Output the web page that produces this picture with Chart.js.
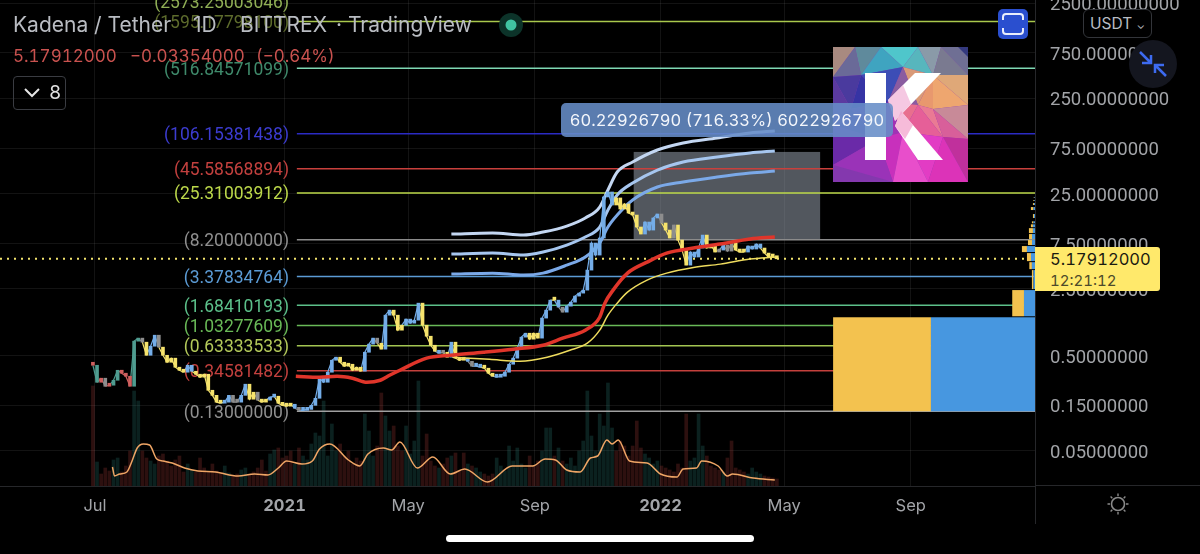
<!DOCTYPE html>
<html>
<head>
<meta charset="utf-8">
<script src="https://cdn.jsdelivr.net/npm/chart.js@4"></script>
<style>
  html, body { margin: 0; padding: 0; background: #000; }
  #wrap { position: relative; width: 1200px; height: 554px; overflow: hidden; background: #000; font-family: Inter, "Noto Sans", sans-serif; font-feature-settings: "tnum"; }
  canvas { position: absolute; left: 0; top: 0; }
  .txt { position: absolute; white-space: nowrap; }
  .head { top: 12px; font-size: 21px; color: #b9bcc2; font-feature-settings: "tnum" 0; }
  .change { top: 46px; font-size: 17px; color: #c9524f; }
  #legendBtn { position: absolute; left: 13px; top: 76px; width: 53px; height: 34px; border: 1px solid #3a3c42; border-radius: 4px; box-sizing: border-box; }
  #usdt { position: absolute; left: 1083px; top: 9px; width: 69px; height: 29px; border: 1px solid #33353a; border-radius: 6px; box-sizing: border-box; background: #000; color: #b9bcc2; font-size: 15.5px; line-height: 27px; padding-left: 6px; }
  #tag { position: absolute; left: 1035px; top: 247px; width: 125px; height: 44px; background: #ffe96b; border-radius: 0 3px 3px 0; }
  #measure { position: absolute; left: 561px; top: 103px; width: 332px; height: 34px; background: rgba(103,141,199,.88); border-radius: 5px; color: #f3f6fb; font-size: 16.5px; line-height: 34px; text-align: center; }
  #homeBar { position: absolute; left: 446px; top: 535px; width: 308px; height: 7px; background: #fff; border-radius: 4px; }
  #logo, .icon { position: absolute; }
  .rule { position: absolute; background: #26272a; }
</style>
</head>
<body>
<div id="wrap">
  <canvas id="chart" width="1200" height="554"></canvas>
  <div class="rule" style="left:1035px;top:0;width:1px;height:524px"></div>
  <div class="rule" style="left:1035px;top:485px;width:165px;height:1px"></div>

  <span class="txt head" style="left:13px">Kadena / Tether</span>
  <span class="txt head" style="left:193px">1D</span>
  <span class="txt head" style="left:240px">BITTREX</span>
  <span class="txt head" style="left:336px">·</span>
  <span class="txt head" style="left:348px">TradingView</span>
  <span class="txt change" style="left:13px">5.17912000</span>
  <span class="txt change" style="left:130px">−0.03354000</span>
  <span class="txt change" style="left:256px">(−0.64%)</span>

  <div id="legendBtn"></div>
  <svg class="icon" style="left:23px;top:87px" width="18" height="12"><path d="M2 2 L9 9 L16 2" fill="none" stroke="#e6e6e6" stroke-width="2"/></svg>
  <span class="txt" style="left:49px;top:81px;font-size:19px;color:#e0e0e0">8</span>

  <svg class="icon" style="left:499px;top:13px" width="24" height="24"><circle cx="12" cy="12" r="12" fill="#0c3329"/><circle cx="12" cy="12" r="5.5" fill="#40c4a2"/></svg>

  <svg id="logo" style="left:833px;top:47px" width="135" height="135" viewBox="0 0 135 135">
    <rect width="135" height="135" fill="#8a3fb0"/>
    <polygon points="0,0 22,0 0,30" fill="#a88a80"/>
    <polygon points="22,0 48,0 28,28" fill="#5f8a9c"/>
    <polygon points="22,0 28,28 0,30" fill="#6a6a98"/>
    <polygon points="48,0 85,0 70,20" fill="#4fc6cb"/>
    <polygon points="48,0 70,20 28,28" fill="#3fa4c0"/>
    <polygon points="85,0 108,0 100,28" fill="#8a9aa8"/>
    <polygon points="85,0 100,28 70,20" fill="#57b6bd"/>
    <polygon points="108,0 135,0 135,28" fill="#6f6f94"/>
    <polygon points="108,0 135,28 100,28" fill="#7a7a90"/>
    <polygon points="125,0 135,0 135,10" fill="#34397e"/>
    <polygon points="0,30 28,28 18,62" fill="#4a3a9e"/>
    <polygon points="28,28 70,20 55,55" fill="#3c4db6"/>
    <polygon points="0,30 18,62 0,78" fill="#5b3aa0"/>
    <polygon points="28,28 55,55 18,62" fill="#3634a4"/>
    <polygon points="70,20 100,28 85,58" fill="#d99a78"/>
    <polygon points="100,28 135,28 135,58" fill="#dfa878"/>
    <polygon points="100,28 135,58 100,62" fill="#eea66f"/>
    <polygon points="100,28 100,62 85,58" fill="#e8986e"/>
    <polygon points="70,20 85,58 55,55" fill="#8a5ca0"/>
    <polygon points="55,55 85,58 70,85" fill="#e86f8e"/>
    <polygon points="85,58 100,62 110,90" fill="#ea7a94"/>
    <polygon points="100,62 135,58 135,92" fill="#c88a98"/>
    <polygon points="100,62 135,92 110,90" fill="#d85f9a"/>
    <polygon points="85,58 110,90 70,85" fill="#e65f98"/>
    <polygon points="18,62 55,55 45,92" fill="#5d2cb0"/>
    <polygon points="0,78 18,62 45,92" fill="#4e2a9c"/>
    <polygon points="55,55 70,85 45,92" fill="#a032b4"/>
    <polygon points="0,78 45,92 0,118" fill="#6a2aa8"/>
    <polygon points="45,92 70,85 60,135" fill="#c830bc"/>
    <polygon points="70,85 110,90 95,135" fill="#e23cc4"/>
    <polygon points="70,85 95,135 60,135" fill="#e84ecb"/>
    <polygon points="110,90 135,92 135,135" fill="#c0309c"/>
    <polygon points="110,90 135,135 95,135" fill="#dc33b8"/>
    <polygon points="45,92 60,135 0,118" fill="#9a33b8"/>
    <polygon points="0,118 60,135 0,135" fill="#8438ae"/>
    <rect x="32" y="26" width="21" height="87" fill="#fff"/>
    <polygon points="82,26 108,26 62,74 55,53" fill="#fff"/>
    <polygon points="68,64 110,113 85,113 62,79" fill="#fff"/>
    <polygon points="55,53 62,74 78,57 70,38" fill="#f2b5d8" opacity=".75"/>
    <polygon points="68,64 62,79 72,92 80,78" fill="#f3a4cc" opacity=".75"/>
  </svg>

  <div id="measure">60.22926790 (716.33%) 6022926790</div>

  <svg class="icon" style="left:998px;top:9px" width="30" height="30"><rect width="30" height="30" rx="5" fill="#2a4fcf"/><path d="M5 11 V8 Q5 5 8 5 H22 Q25 5 25 8 V11 M5 19 V22 Q5 25 8 25 H22 Q25 25 25 22 V19" fill="none" stroke="#e9eefc" stroke-width="2"/></svg>
  <div id="usdt">USDT <span style="font-size:11px">⌄</span></div>
  <svg class="icon" style="left:1129px;top:40px" width="48" height="48"><circle cx="24" cy="24" r="24" fill="#14161f"/><path d="M11 12 L22 23 M22 15 V23 H13 M37 36 L26 25 M26 33 V25 H35" fill="none" stroke="#3d6bf0" stroke-width="2.5"/></svg>

  <div id="tag"></div>
  <span class="txt" style="left:1050px;top:249px;font-size:16.5px;color:#1b1a10">5.17912000</span>
  <span class="txt" style="left:1050px;top:271px;font-size:15px;color:#4d4a2a">12:21:12</span>

  <svg class="icon" style="left:1106px;top:492px" width="24" height="24"><circle cx="12" cy="12" r="6.5" fill="none" stroke="#8a8a8a" stroke-width="1.6"/><path d="M12 1.5 V4 M12 20 V22.5 M1.5 12 H4 M20 12 H22.5 M4.6 4.6 L6.3 6.3 M17.7 17.7 L19.4 19.4 M4.6 19.4 L6.3 17.7 M17.7 6.3 L19.4 4.6" stroke="#8a8a8a" stroke-width="1.4"/></svg>
  <div id="homeBar"></div>
</div>

<script>
// days are counted from 1 Jul 2020
const tickDays = [0, 184, 304, 427, 549, 669, 792];
const tickNames = ["Jul", "2021", "May", "Sep", "2022", "May", "Sep"];
const priceTicks = [2500, 750, 250, 75, 25, 7.5, 2.5, 0.5, 0.15, 0.05];

const candleDays = [
  -2, 2, 6, 10, 14, 18, 22, 26, 30, 34,
  38, 42, 46, 50, 54, 58, 62, 66, 70, 74,
  78, 82, 86, 90, 94, 98, 102, 106, 110, 114,
  118, 122, 126, 130, 134, 138, 142, 146, 150, 154,
  158, 162, 166, 170, 174, 178, 182, 186, 190, 194,
  198, 202, 206, 210, 214, 218, 222, 226, 230, 234,
  238, 242, 246, 250, 254, 258, 262, 266, 270, 274,
  278, 282, 286, 290, 294, 298, 302, 306, 310, 314,
  318, 322, 326, 330, 334, 338, 342, 346, 350, 354,
  358, 362, 366, 370, 374, 378, 382, 386, 390, 394,
  398, 402, 406, 410, 414, 418, 422, 426, 430, 434,
  438, 442, 446, 450, 454, 458, 462, 466, 470, 474,
  478, 482, 486, 490, 494, 498, 502, 506, 510, 514,
  518, 522, 526, 530, 534, 538, 542, 546, 550, 554,
  558, 562, 566, 570, 574, 578, 582, 586, 590, 594,
  598, 602, 606, 610, 614, 618, 622, 626, 630, 634,
  638, 642, 646, 650, 654, 658, 662
];
const closes = [
  .395, .262, .289, .238, .244, .275, .350, .326, .303, .238,
  .707, .761, .690, .503, .626, .817, .612, .503, .425, .469,
  .377, .350, .334, .395, .342, .318, .296, .318, .216, .191,
  .162, .158, .162, .191, .162, .162, .191, .250, .174, .206,
  .170, .162, .170, .183, .187, .158, .150, .147, .154, .140,
  .133, .133, .136, .150, .178, .289, .262, .334, .446, .480,
  .425, .386, .405, .350, .377, .342, .541, .658, .761, .673,
  .583, 1.325, 1.496, 1.325, .922, 1.040, 1.205, 1.092, 1.174, 1.772,
  1.040, .797, .641, .554, .528, .541, .480, .690, .469, .446,
  .469, .435, .386, .386, .377, .368, .326, .303, .296, .303,
  .334, .405, .469, .600, .779, .857, .742, .857, .761, 1.235,
  1.496, 1.905, 1.905, 1.610, 1.426, 1.648, 1.815, 2.10, 2.257, 2.427,
  3.937, 7.57, 5.66, 8.55, 23.05, 26.0, 18.98, 22.5, 17.24, 19.45,
  15.63, 14.89, 11.15, 9.41, 12.58, 10.36, 13.87, 15.26, 12.28, 10.36,
  8.55, 11.7, 8.135, 6.387, 4.44, 6.09, 5.40, 6.71, 9.18, 6.71,
  7.21, 6.09, 6.39, 7.21, 6.23, 7.57, 6.39, 6.09, 6.09, 7.04,
  6.55, 7.39, 6.71, 5.94, 5.40, 5.40, 5.17912
];
// r red, g green, n neutral, b blue, y yellow
const candleTones = (
  "rgrnrggrrr" + "ggnybbnyyy" + "yyybbyyyyy" + "yybbnnbbyy" +
  "nyybbyyyyb" + "nbbbbbbbbb" + "yyyyyybbbn" + "ybbyyybbbb" +
  "yyyybnybyy" + "ybnbbyyybb" + "bbbbbbyyyb" + "bbybnbbbbb" +
  "bbbbbbbyyy" + "yyyybbbbny" + "ynyyybbbby" + "yynbnnyyyb" + "bbbyyyy"
).split("");
const volumes = [
  100, 24, 12, 18, 15, 26, 28, 14, 20, 35,
  95, 85, 35, 28, 25, 22, 30, 32, 25, 20,
  26, 30, 14, 22, 16, 14, 28, 18, 14, 22,
  15, 12, 20, 13, 10, 12, 16, 18, 12, 14,
  18, 26, 15, 32, 36, 38, 28, 30, 35, 22,
  38, 30, 26, 42, 53, 50, 85, 30, 62, 35,
  42, 30, 35, 22, 28, 25, 72, 55, 30, 40,
  93, 70, 55, 60, 40, 35, 60, 32, 45, 105,
  30, 52, 25, 20, 18, 22, 28, 30, 33, 15,
  33, 22, 20, 18, 14, 12, 10, 12, 28, 20,
  15, 40, 25, 38, 22, 18, 30, 20, 25, 35,
  58, 58, 30, 38, 25, 22, 28, 20, 35, 45,
  95, 50, 35, 72, 60, 103, 58, 35, 45, 40,
  30, 40, 65, 38, 32, 28, 22, 25, 20, 18,
  16, 14, 22, 18, 72, 25, 28, 72, 40, 30,
  20, 18, 16, 14, 28, 45, 18, 16, 14, 12,
  18, 14, 12, 10, 9, 8, 7
];

const volumeMaDays = [17, 19, 24, 31, 36, 41, 47, 53, 60, 66, 75, 87, 100, 117, 139, 155, 168, 178, 186, 201, 211, 218, 228, 246, 257, 265, 280, 288, 296, 313, 328, 345, 359, 381, 405, 425, 437, 447, 458, 471, 481, 488, 497, 502, 508, 519, 536, 549, 565, 571, 584, 589, 605, 614, 619, 639, 660];
const volumeMa = [19, 10, 12, 14, 25, 38, 42, 41, 27, 25, 23, 18, 15, 14, 10, 12, 11, 18, 25, 22, 25, 37, 42, 26, 20, 32, 38, 36, 44, 18, 29, 12, 17, 4, 20, 20, 27, 26, 16, 14, 28, 30, 46, 42, 46, 25, 23, 12, 9, 17, 18, 25, 20, 10, 12, 8, 6];

const redMaDays = [195, 218, 235, 250, 264, 277, 286, 296, 322, 345, 377, 406, 435, 454, 476, 490, 495, 503, 517, 536, 555, 581, 607, 636, 660];
const redMa = [.303, .296, .303, .289, .262, .275, .31, .35, .469, .503, .541, .583, .641, .761, .922, 1.26, 1.772, 2.427, 3.66, 4.77, 5.94, 6.71, 7.39, 8.35, 8.75];
const yellowMaDays = [347, 383, 413, 439, 461, 478, 490, 498, 507, 517, 536, 555, 581, 607, 636, 660];
const yellowMa = [.480, .456, .435, .480, .568, .673, .922, 1.325, 1.772, 2.31, 3.09, 3.66, 4.2, 4.55, 5.14, 5.40];

const bandDays = [346, 386, 416, 435, 458, 476, 490, 498, 507, 522, 546, 571, 604, 636, 660];
const bandUpper = [9.41, 9.63, 9.18, 9.87, 11.4, 13.87, 18.06, 27.28, 42.1, 53.7, 71.7, 84.9, 95.9, 108, 113.5];
const bandMiddle = [5.80, 5.94, 5.66, 6.09, 7.21, 8.75, 11.15, 16.81, 24.2, 32.3, 44.2, 53.7, 60.5, 66.7, 70];
const bandLower = [3.58, 3.66, 3.49, 3.66, 4.44, 5.40, 7.57, 11.15, 14.89, 21.42, 29.3, 33.1, 37.3, 41.1, 43.1];

const fibLevels = [2573.25003046, 1595.17798100, 516.84571099, 106.15381438, 45.58568894, 25.31003912, 8.20000000, 3.37834764, 1.68410193, 1.03277609, 0.63333533, 0.34581482, 0.13000000];
const fibLineColors = ["rgba(0,0,0,0)", "#a9c84c", "#7ed8b4", "#2b2bc4", "#c9403c", "#bcd84a", "#8b8b8b", "#5b9bd5", "#5cc08a", "#69b957", "#a3c552", "#c4403c", "#a0a0a0"];
const fibLabelColors = ["#8fae55", "#5d6b2c", "#3f8a6b", "#3c3cd0", "#c2403e", "#bcd84a", "#8f8f8f", "#5b9bd5", "#5cc08a", "#69b957", "#b3c95a", "#c2403e", "#8f8f8f"];

const lastPrice = 5.17912;
const measureDays = [523, 704];
const measurePrices = [68.4292679, 8.2];

// visible range volume profile, rows run from low prices upwards
const profileLow = [.13, 1.29, 2.49, 4.03, 4.89, 6.09, 7.21, 8.33, 9.63, 11.1, 12.2, 13.87, 16.81, 18.98, 20.9, 22.5];
const profileHigh = [1.26, 2.43, 3.94, 4.77, 5.94, 7.04, 8.14, 9.41, 10.85, 11.9, 12.8, 15.26, 18.06, 19.9, 21.42, 23.05];
const profileBuy = [95, 11.4, 1.5, 2.5, 3.9, 4.9, 3.9, 2.9, 3.9, 2, 1.5, 1, 2.5, 1, .8, .6];
const profileSell = [101, 10.7, 1.5, 3, 3.9, 7.8, 2.9, 2.9, 2, 2, 1.5, 1, 1.5, 1, .8, .6];

const xMin = -92.2;
const xMax = 912.6;
const fibStartDay = 196;

const toneColors = { r: "#cf5f5e", g: "#4f9c90", n: "#8d8d8d", b: "#74ade8", y: "#f6e36c" };

const zip = (xs, ys) => xs.map((x, i) => ({ x, y: ys[i] }));

const curve = (label, xs, ys, color, width, order, axis = "y") => ({
  type: "line",
  label,
  data: zip(xs, ys),
  borderColor: color,
  borderWidth: width,
  pointRadius: 0,
  cubicInterpolationMode: "monotone",
  yAxisID: axis,
  order
});

const fibDatasets = fibLevels.map((level, i) => ({
  type: "line",
  label: "fib " + level,
  data: [{ x: fibStartDay, y: level }, { x: xMax, y: level }],
  borderColor: fibLineColors[i],
  borderWidth: 1.5,
  pointRadius: 0,
  yAxisID: "y",
  order: 8
}));

const backdrop = {
  id: "backdrop",
  beforeDatasetsDraw(chart) {
    const { ctx, scales } = chart;
    const left = scales.x.getPixelForValue(measureDays[0]);
    const right = scales.x.getPixelForValue(measureDays[1]);
    const top = scales.y.getPixelForValue(measurePrices[0]);
    const bottom = scales.y.getPixelForValue(measurePrices[1]);
    ctx.save();
    ctx.fillStyle = "rgba(150,158,172,.55)";
    ctx.fillRect(left, top, right - left, bottom - top);
    ctx.font = "17.5px Roboto";
    ctx.textAlign = "right";
    ctx.textBaseline = "middle";
    fibLevels.forEach((level, i) => {
      ctx.fillStyle = fibLabelColors[i];
      ctx.fillText("(" + level.toFixed(8) + ")", 289, scales.y.getPixelForValue(level) + 2);
    });
    ctx.restore();
  }
};

const volumeProfile = {
  id: "volumeProfile",
  afterDatasetsDraw(chart) {
    const { ctx, scales } = chart;
    ctx.save();
    profileLow.forEach((low, i) => {
      const top = scales.y.getPixelForValue(profileHigh[i]);
      const bottom = scales.y.getPixelForValue(low);
      const edge = scales.x.getPixelForValue(xMax);
      const split = scales.x.getPixelForValue(xMax - profileSell[i]);
      const start = scales.x.getPixelForValue(xMax - profileSell[i] - profileBuy[i]);
      ctx.fillStyle = "#f3c24f";
      ctx.fillRect(start, top, split - start, bottom - top);
      ctx.fillStyle = "#4797e0";
      ctx.fillRect(split, top, edge - split, bottom - top);
    });
    ctx.restore();
  }
};

new Chart(document.getElementById("chart"), {
  data: {
    datasets: [
      {
        type: "bar",
        label: "Volume",
        data: zip(candleDays, volumes),
        backgroundColor: candleTones.map(t => (t === "b" || t === "g") ? "rgba(50,150,140,.22)" : "rgba(205,75,70,.22)"),
        barThickness: 3,
        grouped: false,
        yAxisID: "yVol",
        order: 10
      },
      curve("Volume MA", volumeMaDays, volumeMa, "#efa565", 1.5, 9, "yVol"),
      ...fibDatasets,
      {
        type: "line",
        label: "Last price",
        data: [{ x: xMin, y: lastPrice }, { x: xMax, y: lastPrice }],
        borderColor: "#f2e36d",
        borderWidth: 2,
        borderDash: [2, 5],
        pointRadius: 0,
        yAxisID: "y",
        order: 7
      },
      curve("Band upper", bandDays, bandUpper, "#c4d7f2", 3, 6),
      curve("Band middle", bandDays, bandMiddle, "#a6c6ef", 3, 6),
      curve("Band lower", bandDays, bandLower, "#7ba9e8", 3, 6),
      {
        type: "line",
        label: "KDA/USDT",
        data: zip(candleDays, closes),
        borderWidth: 1.2,
        pointRadius: 0,
        yAxisID: "y",
        order: 5,
        segment: { borderColor: ctx => toneColors[candleTones[ctx.p1DataIndex]] }
      },
      {
        // candle bodies run from the previous close to this close
        type: "bar",
        label: "Candles",
        data: candleDays.map((x, i) => ({ x, y: [closes[Math.max(i - 1, 0)], closes[i]] })),
        backgroundColor: candleTones.map(t => toneColors[t]),
        barThickness: 3,
        minBarLength: 3,
        grouped: false,
        yAxisID: "y",
        order: 4
      },
      curve("Yellow MA", yellowMaDays, yellowMa, "#efdc5e", 1.5, 2),
      curve("Red MA", redMaDays, redMa, "#e0352a", 3.5, 1)
    ]
  },
  options: {
    responsive: false,
    animation: false,
    events: [],
    layout: { padding: 0 },
    plugins: { legend: { display: false }, tooltip: { enabled: false } },
    scales: {
      x: {
        type: "linear",
        offset: false,
        min: xMin,
        max: xMax,
        grid: { color: "rgba(255,255,255,.075)", tickLength: 0, offset: false },
        border: { color: "#26272a" },
        afterBuildTicks: scale => { scale.ticks = tickDays.map(value => ({ value })); },
        afterFit: scale => { scale.height = 68; scale.paddingLeft = 0; scale.paddingRight = 0; },
        ticks: {
          autoSkip: false,
          maxRotation: 0,
          padding: 10,
          color: "#a2a4a8",
          font: ctx => ({ family: "Inter", size: 16.5, weight: ctx.tick && tickNames[tickDays.indexOf(ctx.tick.value)].startsWith("20") ? "bold" : "normal" }),
          callback: value => tickNames[tickDays.indexOf(value)]
        }
      },
      y: {
        type: "logarithmic",
        position: "right",
        bounds: "data",
        min: 0.02137,
        max: 2688,
        grid: { color: "rgba(255,255,255,.075)", tickLength: 0 },
        border: { display: false },
        afterBuildTicks: scale => { scale.ticks = priceTicks.map(value => ({ value })); },
        afterFit: scale => { scale.width = 165; scale.paddingTop = 0; scale.paddingBottom = 0; },
        ticks: {
          autoSkip: false,
          padding: 15,
          labelOffset: 2.5,
          color: "#a2a4a8",
          font: { family: "Roboto", size: 18.5 },
          callback: value => value.toFixed(8)
        }
      },
      yVol: { type: "linear", display: false, min: 0, max: 486 }
    }
  },
  plugins: [backdrop, volumeProfile]
});
</script>
</body>
</html>
